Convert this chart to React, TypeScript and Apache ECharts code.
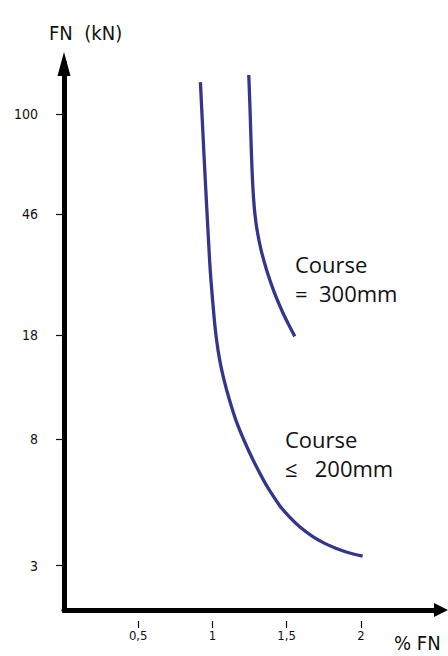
import React, { useEffect, useRef } from 'react';
import * as echarts from 'echarts';

// Tick values
const yTickValues = [3, 8, 18, 46, 100];
const xTickValues = [0.5, 1, 1.5, 2];

// Curve "Course <= 200mm": % FN vs FN (kN)
const course200X = [
  0.919, 0.945, 0.959, 0.981, 0.99, 1.013, 1.028, 1.049, 1.078, 1.114, 1.158, 1.212,
  1.274, 1.344, 1.383, 1.451, 1.519, 1.59, 1.679, 1.75, 1.827, 1.907, 2.012,
];
const course200Y = [
  128.3, 70.0, 51.3, 32.2, 27.6, 20.2, 17.3, 14.8, 12.7, 10.9, 9.29, 7.96,
  6.81, 5.83, 5.4, 4.8, 4.38, 4.05, 3.75, 3.58, 3.44, 3.33, 3.23,
];

// Curve "Course = 300mm"
const course300X = [1.245, 1.254, 1.262, 1.27, 1.278, 1.287, 1.301, 1.328, 1.365, 1.411, 1.467, 1.509, 1.555];
const course300Y = [135.5, 101.6, 75.6, 59.9, 51.3, 45.7, 40.6, 34.8, 29.8, 25.5, 21.8, 19.7, 17.8];

const yAxisName = 'FN  (kN)';
const xAxisName = '% FN';
const label300 = 'Course\n=  300mm';
const label200 = 'Course\n≤   200mm';

const tickFont = '"DejaVu Sans Condensed", "Liberation Sans Narrow", "DejaVu Sans", sans-serif';
const textFont = '"Open Sans", "Noto Sans", sans-serif';
const curveColor = '#34358b';

export default function App() {
  const ref = useRef<HTMLDivElement>(null);
  useEffect(() => {
    if (!ref.current) return;
    const chart = echarts.init(ref.current, null, { renderer: 'svg' });
    const zip = (xs: number[], ys: number[]) => xs.map((x, i) => [x, ys[i]]);
    const option: any = {
      animation: false,
      backgroundColor: '#ffffff',
      grid: { left: 64, right: 7, top: 64, bottom: 46, containLabel: false },
      xAxis: [
        {
          type: 'value',
          min: 0,
          max: 2.54,
          position: 'bottom',
          splitLine: { show: false },
          axisLine: {
            show: true,
            symbol: ['none', 'triangle'],
            symbolSize: [14, 14],
            lineStyle: { color: '#000', width: 5 },
          },
          axisTick: { show: false },
          axisLabel: {
            show: true,
            customValues: xTickValues,
            margin: 19,
            fontSize: 13,
            color: '#111',
            fontFamily: tickFont,
            formatter: (v: number) => String(v).replace('.', ','),
          },
        },
        {
          type: 'value',
          min: 0,
          max: 2.54,
          position: 'bottom',
          offset: 11,
          splitLine: { show: false },
          axisLine: { show: false },
          axisTick: {
            show: true,
            customValues: xTickValues,
            length: 7,
            lineStyle: { color: '#111', width: 1.2 },
          },
          axisLabel: { show: false },
        },
      ],
      yAxis: [
        {
          type: 'log',
          min: 2.126,
          max: 147.6,
          position: 'left',
          splitLine: { show: false },
          axisLine: {
            show: true,
            symbol: ['none', 'triangle'],
            symbolSize: [13, 24],
            lineStyle: { color: '#000', width: 5, cap: 'square' },
          },
          axisTick: { show: false },
          axisLabel: {
            show: true,
            customValues: yTickValues,
            margin: 26,
            fontSize: 14,
            color: '#111',
            fontFamily: tickFont,
          },
        },
        {
          type: 'log',
          min: 2.126,
          max: 147.6,
          position: 'left',
          offset: 9,
          splitLine: { show: false },
          axisLine: { show: false },
          axisTick: {
            show: true,
            customValues: yTickValues,
            length: 8,
            lineStyle: { color: '#111', width: 1.2 },
          },
          axisLabel: { show: false },
        },
      ],
      series: [
        {
          type: 'line',
          name: 'Course ≤ 200mm',
          xAxisIndex: 0,
          yAxisIndex: 0,
          data: zip(course200X, course200Y),
          smooth: 0.3,
          showSymbol: false,
          lineStyle: { color: curveColor, width: 3.3 },
        },
        {
          type: 'line',
          name: 'Course = 300mm',
          xAxisIndex: 0,
          yAxisIndex: 0,
          data: zip(course300X, course300Y),
          smooth: 0.3,
          showSymbol: false,
          lineStyle: { color: curveColor, width: 3.3 },
        },
      ],
      graphic: [
        {
          type: 'text',
          left: 49,
          top: 23,
          style: { text: yAxisName, fontSize: 20, fontFamily: tickFont, fill: '#111' },
        },
        {
          type: 'text',
          left: 394,
          top: 633,
          style: { text: xAxisName, fontSize: 20, fontFamily: tickFont, fill: '#111' },
        },
        {
          type: 'text',
          left: 295,
          top: 249,
          style: { text: label300, fontSize: 22, lineHeight: 29, fontFamily: textFont, fill: '#111' },
        },
        {
          type: 'text',
          left: 285,
          top: 424,
          style: { text: label200, fontSize: 22, lineHeight: 29, fontFamily: textFont, fill: '#111' },
        },
      ],
    };
    chart.setOption(option);
    return () => chart.dispose();
  }, []);
  return (
    <div
      ref={ref}
      style={{ position: 'fixed', left: 0, top: 0, width: 448, height: 656, background: '#fff' }}
    />
  );
}
